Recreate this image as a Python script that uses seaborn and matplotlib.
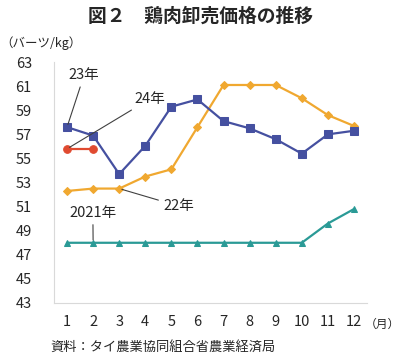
import matplotlib
matplotlib.use("Agg")
import matplotlib.pyplot as plt
import pandas as pd
import seaborn as sns

# 月別の鶏肉卸売価格（バーツ/kg）
months = list(range(1, 13))
y2021 = [48.0, 48.0, 48.0, 48.0, 48.0, 48.0, 48.0, 48.0, 48.0, 48.0, 49.6, 50.8]
y2022 = [52.3, 52.5, 52.5, 53.5, 54.1, 57.6, 61.1, 61.1, 61.1, 60.0, 58.6, 57.7]
y2023 = [57.6, 56.9, 53.7, 56.05, 59.3, 59.9, 58.1, 57.5, 56.6, 55.4, 57.0, 57.3]
y2024 = [55.8, 55.8]

series = {"2021": y2021, "2022": y2022, "2023": y2023, "2024": y2024}
rows = []
for name, vals in series.items():
    for m, v in zip(months, vals):
        rows.append({"month": m, "price": v, "year": name})
df = pd.DataFrame(rows)

palette = {"2021": "#2a9a96", "2022": "#f0a830", "2023": "#4550a0", "2024": "#e04a30"}
markers = {"2021": "^", "2022": "D", "2023": "s", "2024": "o"}
msize = {"2021": 5, "2022": 4, "2023": 6, "2024": 5.5}

sns.set_style("white")
plt.rcParams["font.family"] = ["Noto Sans CJK JP", "DejaVu Sans"]

fig = plt.figure(figsize=(4.0, 3.59), dpi=100)
ax = fig.add_axes([0.135, 0.156, 0.7825, 0.671])

for name in series:
    sub = df[df["year"] == name]
    sns.lineplot(data=sub, x="month", y="price", color=palette[name],
                 marker=markers[name], markersize=msize[name],
                 markeredgecolor=palette[name], linewidth=1.6, ax=ax)

ax.set_xlim(0.5, 12.5)
ax.set_ylim(43, 63)
ax.set_xticks(months)
ax.set_yticks(range(43, 64, 2))
ax.tick_params(axis="both", length=0, labelsize=10.5)
ax.tick_params(axis="y", pad=16)
ax.tick_params(axis="x", pad=9)
ax.set_xlabel("")
ax.set_ylabel("")
for s in ["top", "right"]:
    ax.spines[s].set_visible(False)
for s in ["left", "bottom"]:
    ax.spines[s].set_color("#d9d9d9")
    ax.spines[s].set_linewidth(0.8)

line_kw = dict(arrowstyle="-", color="#404040", lw=0.8, shrinkA=1, shrinkB=2)
ax.annotate("23年", xy=(1, 57.6), xytext=(1.65, 61.9), ha="center", va="center",
            fontsize=10.5, arrowprops=line_kw)
ax.annotate("24年", xy=(1, 55.8), xytext=(4.17, 59.93), ha="center", va="center",
            fontsize=10.5, arrowprops=line_kw)
ax.annotate("22年", xy=(3, 52.5), xytext=(5.27, 51.05), ha="center", va="center",
            fontsize=10.5, arrowprops=line_kw)
ax.annotate("2021年", xy=(2, 48.0), xytext=(1.99, 50.47), ha="center", va="center",
            fontsize=10.5, arrowprops=line_kw)

fig.text(0.5, 0.955, "図２　鶏肉卸売価格の推移", ha="center", va="center",
         fontsize=13.5, fontweight="bold")
fig.text(0.0, 0.88, "（バーツ/kg）", ha="left", va="center", fontsize=9)
fig.text(0.956, 0.097, "（月）", ha="center", va="center", fontsize=8.5)
fig.text(0.125, 0.033, "資料：タイ農業協同組合省農業経済局", ha="left", va="center", fontsize=9.5)

fig.savefig("out.png", dpi=100)
